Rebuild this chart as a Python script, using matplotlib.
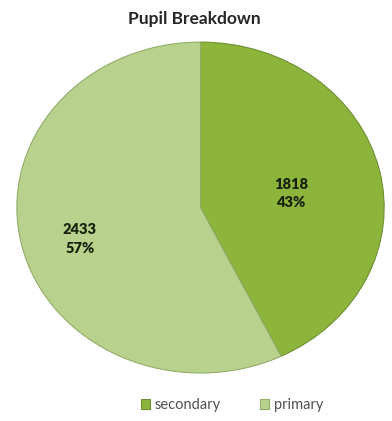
import numpy as np
import matplotlib.pyplot as plt

# pupil counts per phase
categories = ['secondary', 'primary']
pupils = [1818, 2433]
colors = ['#8db53c', '#b8d28e']

fig = plt.figure(figsize=(3.92, 4.21), dpi=100)
ax = fig.add_axes([0.043, 0.114, 0.937, 0.786])

total = sum(pupils)
wedges, _ = ax.pie(pupils, colors=colors, startangle=90, counterclock=False,
                   wedgeprops=dict(edgecolor='#6f8f33', linewidth=0.8))
wedges[1].set_edgecolor('#93ad6a')
# stretch the pie to fill the axes (oval look)
ax.set_aspect('auto')
ax.set_xlim(-1, 1)
ax.set_ylim(-1, 1)

# value + share labels
label_pos = [(0.493, 0.085), (-0.657, -0.19)]
for n, (x, y) in zip(pupils, label_pos):
    ax.text(x, y, f'{n}\n{n / total:.0%}', ha='center', va='center',
            fontsize=10.5, fontweight='heavy', color='#18220c',
            family='Lato', linespacing=1.5)

fig.text(0.495, 0.955, 'Pupil Breakdown', ha='center', va='center',
         fontsize=12.5, fontweight='bold', color='#262626', family='Lato')

ax.legend(wedges, categories, loc='center', bbox_to_anchor=(0.586, -0.097),
          ncol=2, frameon=False, handlelength=0.6, handleheight=0.6,
          columnspacing=2.7, handletextpad=0.35,
          prop={'family': 'Lato', 'size': 10.5})
for t in ax.get_legend().get_texts():
    t.set_color('#505050')

fig.savefig('out.png', dpi=100)
